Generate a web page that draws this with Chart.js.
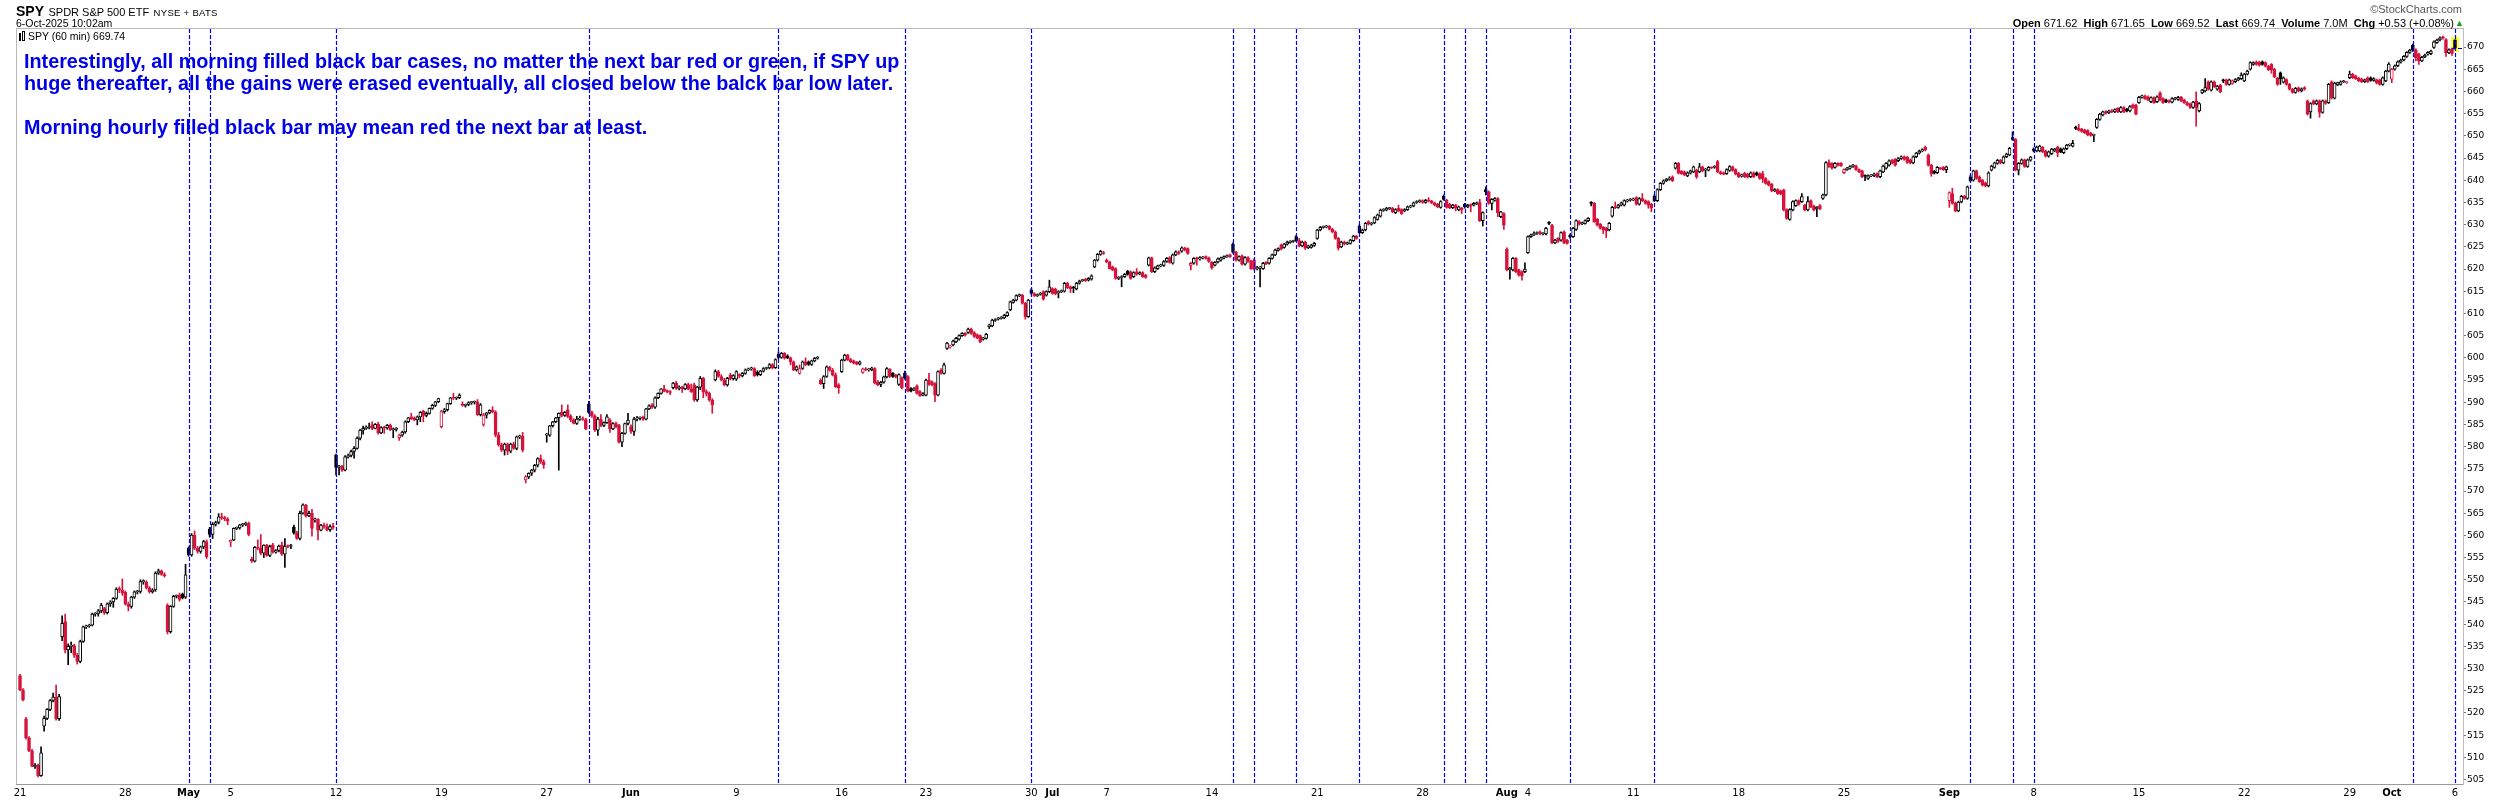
<!DOCTYPE html>
<html><head><meta charset="utf-8">
<script src="https://cdn.jsdelivr.net/npm/chart.js@4.4.1/dist/chart.umd.min.js"></script>
<style>
html,body{margin:0;padding:0;background:#fff;}
#wrap{position:relative;width:2500px;height:800px;overflow:hidden;background:#fff;}
#c{position:absolute;left:0;top:0;}
.t{position:absolute;white-space:pre;font-family:"Liberation Sans",Arial,sans-serif;color:#000;line-height:1;}
#note{position:absolute;left:24px;top:50px;font-family:"Liberation Sans",Arial,sans-serif;font-weight:bold;font-size:19.8px;line-height:22px;color:#0000e6;white-space:pre;}
</style></head><body>
<div id="wrap">
<canvas id="c" width="2500" height="800"></canvas>
<div class="t" style="left:16px;top:3px;"><span style="font-size:14px;font-weight:bold;">SPY</span> <span style="font-size:11px;">SPDR S&amp;P 500 ETF</span> <span style="font-size:9.5px;letter-spacing:0.3px;">NYSE + BATS</span></div>
<div class="t" style="left:16px;top:18px;font-size:10.5px;">6-Oct-2025 10:02am</div>
<div class="t" style="right:38px;top:4px;font-size:11px;color:#555;">&#169;StockCharts.com</div>
<div class="t" style="right:46px;top:18px;font-size:11px;"><b>Open</b> 671.62  <b>High</b> 671.65  <b>Low</b> 669.52  <b>Last</b> 669.74  <b>Volume</b> 7.0M  <b>Chg</b> +0.53 (+0.08%)</div>
<div class="t" style="left:2455px;top:19px;font-size:9px;color:#1a9a1a;">&#9650;</div>
<div class="t" style="left:19px;top:31px;font-size:10.5px;"><span style="display:inline-block;width:2px;height:8px;background:#000;vertical-align:-1px;"></span><span style="display:inline-block;width:1px;height:8px;border:1px solid #000;margin-left:1px;vertical-align:-1px;"></span> SPY (60 min) 669.74</div>
<div id="note">Interestingly, all morning filled black bar cases, no matter the next bar red or green, if SPY up
huge thereafter, all the gains were erased eventually, all closed below the balck bar low later.

Morning hourly filled black bar may mean red the next bar at least.</div>
</div>
<script>
// ---- DATA (hourly bars, SPY 60 min, 21-Apr-2025 .. 6-Oct-2025) ----
const prevClose0 = 526.4;
const opens = [
528.4,525.2,518.7,514.4,511.5,507.9,508.2,
505.9,517.0,518.8,520.8,522.8,523.6,518.7,
537.2,540.6,534.2,535.0,535.2,533.0,531.6,
536.1,539.4,539.6,539.8,542.3,542.4,543.0,
543.5,542.6,544.6,545.0,545.8,547.9,547.6,
547.2,544.5,544.0,546.1,547.3,547.4,549.6,
549.5,548.2,547.3,547.7,551.5,552.0,551.2,
544.3,538.3,544.0,546.3,546.6,546.8,546.1,
557.1,555.6,560.1,557.1,556.4,557.4,558.6,
561.4,560.2,562.5,562.9,564.2,564.0,563.7,
558.5,559.0,561.6,561.7,562.4,562.5,562.7,
554.6,554.2,557.3,557.1,556.0,557.8,555.5,
557.9,556.2,556.6,557.8,555.8,557.6,557.5,
561.9,560.6,559.3,565.0,566.8,564.4,565.0,
563.5,563.6,561.2,562.3,562.0,561.3,562.0,
578.1,575.3,575.5,574.7,577.7,578.0,578.9,
579.6,581.9,583.7,584.1,584.3,584.9,584.1,
585.0,583.1,584.3,584.2,584.8,583.8,583.9,
582.0,582.6,583.3,585.6,586.7,586.4,586.0,
586.7,588.0,587.0,587.5,588.6,589.3,590.1,
584.5,587.9,588.3,589.7,591.0,590.9,591.0,
589.6,589.3,589.5,589.9,590.0,590.1,587.2,
585.0,587.1,587.6,588.2,587.8,582.6,580.4,
579.2,580.6,579.0,580.6,579.6,582.2,582.4,
572.5,573.2,574.0,574.7,575.8,577.3,576.6,
582.6,582.6,584.7,585.6,586.5,587.8,587.0,
588.3,586.8,586.0,585.2,586.2,586.3,586.1,
589.5,587.7,586.9,583.7,586.2,584.8,585.4,
586.0,584.0,585.2,584.8,581.0,583.0,585.2,
584.5,583.4,586.2,586.4,586.6,586.2,588.5,
589.4,588.9,591.0,592.0,593.0,592.6,592.4,
593.3,594.3,593.1,593.4,593.0,594.0,593.0,
593.9,590.5,593.4,595.4,592.4,592.0,590.5,
595.0,596.9,595.8,595.0,593.9,596.1,595.3,
595.2,596.2,595.9,596.5,597.3,597.5,597.6,
596.8,596.2,597.0,597.6,597.7,598.5,597.8,
600.8,600.1,601.0,600.4,600.0,599.1,597.3,
596.5,597.6,599.1,599.1,598.5,599.3,599.9,
595.0,594.2,595.8,597.9,597.2,596.1,593.9,
596.9,599.5,600.6,599.6,599.3,599.0,598.6,
596.7,597.5,597.3,597.3,597.6,594.6,594.0,
594.5,595.7,597.4,596.5,596.1,594.0,595.5,
596.5,595.8,593.1,592.8,593.7,592.4,591.6,
591.6,595.0,594.6,594.2,591.6,597.2,596.5,
602.1,602.4,602.9,603.6,604.2,605.0,605.5,
605.7,606.5,605.7,605.2,605.0,604.2,604.4,
607.0,607.2,608.4,608.7,608.9,609.0,609.5,
610.8,612.5,613.0,614.0,614.1,612.3,609.3,
615.3,614.5,614.0,614.3,614.9,614.1,614.9,
615.6,615.5,614.7,614.9,615.0,616.8,616.0,
615.9,615.5,616.8,617.4,617.7,617.5,617.7,
620.5,622.0,623.3,623.7,
622.0,621.6,620.5,620.1,617.9,618.1,618.3,
619.5,619.4,618.3,619.4,618.9,619.2,618.6,
620.9,622.5,619.4,620.1,620.7,620.8,621.7,
622.6,621.3,623.2,623.9,624.0,624.7,624.6,
620.8,621.3,622.5,622.2,622.5,622.8,622.5,
621.5,620.9,621.6,622.0,622.5,622.8,623.2,
625.6,623.8,622.0,623.0,621.1,622.6,621.8,
622.0,620.1,620.2,620.1,621.5,621.3,622.4,
623.2,624.2,625.4,624.9,625.6,626.0,626.2,
627.3,626.4,625.2,626.1,624.8,624.9,625.3,
626.9,628.8,629.4,629.5,629.6,629.0,628.4,
626.9,625.0,626.1,625.7,625.8,626.4,627.4,
629.7,628.2,628.8,630.7,630.1,630.4,631.2,
631.9,633.2,633.3,633.6,633.7,632.7,633.7,
633.4,633.1,633.4,634.0,634.2,635.0,635.2,
635.4,635.0,635.6,635.3,634.9,634.6,633.9,
636.4,635.5,634.6,633.8,634.4,633.3,633.7,
634.6,634.0,634.5,634.4,634.7,635.0,630.9,
637.9,637.4,634.8,635.5,635.9,631.8,632.5,
624.5,619.8,619.8,622.4,619.8,619.4,619.4,
623.7,627.3,627.7,628.0,628.4,627.9,627.9,
630.5,629.9,625.9,626.9,626.5,628.4,626.5,
627.6,627.3,628.9,630.7,630.2,630.3,630.9,
635.0,634.8,631.2,630.1,629.4,629.2,628.8,
631.9,634.0,633.9,634.4,634.4,635.3,635.5,
635.6,636.1,634.6,635.9,635.4,635.2,634.6,
636.4,635.4,637.9,639.3,639.9,640.2,640.8,
642.7,643.8,642.0,641.9,641.0,641.6,641.9,
642.3,641.9,643.0,642.3,642.3,642.9,642.9,
644.2,641.9,641.7,641.5,642.2,643.0,642.4,
641.6,640.9,641.6,641.4,640.8,641.7,641.7,
641.5,641.5,640.4,639.7,639.1,637.6,637.9,
637.6,637.8,633.4,631.2,633.3,634.3,635.4,
635.2,634.4,633.3,635.4,634.2,633.6,634.3,
635.9,636.7,644.0,643.8,642.9,643.8,643.8,
641.7,642.4,642.7,643.1,643.2,642.4,642.1,
641.0,640.4,641.0,641.0,641.5,640.8,641.9,
642.7,643.4,644.5,644.7,644.4,644.9,645.3,
645.2,644.6,643.9,645.3,646.1,646.6,647.4,
645.7,643.4,642.0,641.7,642.7,642.9,642.4,
635.4,637.0,634.9,633.1,635.1,636.4,635.9,
640.8,640.0,642.1,640.8,640.0,639.4,638.7,
642.3,642.9,643.8,644.5,643.9,645.3,645.7,
649.6,649.2,642.3,643.8,644.6,643.1,644.5,
647.0,646.6,646.6,647.4,646.6,645.4,646.0,
646.6,647.5,647.1,646.2,647.1,647.9,647.7,
651.9,651.7,651.5,651.3,651.2,650.6,650.1,
651.9,653.7,654.7,655.5,655.2,655.7,655.4,
656.2,655.4,656.4,656.0,655.6,657.0,656.9,
657.5,658.7,659.0,658.8,657.7,658.6,657.7,
659.7,658.4,658.1,657.9,657.6,658.3,658.2,
658.7,658.1,657.5,657.2,656.4,657.9,655.6,
659.7,660.1,662.2,660.3,662.2,660.5,661.4,
662.6,662.6,661.6,661.8,662.2,662.6,662.9,
662.4,663.9,665.0,666.1,666.6,666.6,666.7,
666.5,665.7,666.1,665.0,663.0,664.2,662.1,
662.7,661.6,660.5,659.8,660.8,660.1,660.9,
657.9,655.4,657.9,657.2,657.9,655.3,657.9,
657.5,662.2,658.5,661.5,661.6,662.2,662.0,
663.1,663.9,663.5,663.0,662.8,662.2,663.1,
663.1,662.5,662.6,662.6,661.6,662.4,664.6,
662.8,665.0,665.8,666.6,667.1,667.9,668.8,
670.4,669.4,668.4,666.9,667.8,668.4,668.5,
669.9,671.0,671.6,672.3,671.7,668.7,669.6,
671.62
];
const highs = [
528.7,525.5,519.0,514.7,511.8,508.6,508.5,
512.4,519.3,521.0,523.0,524.5,526.3,524.2,
541.9,542.3,535.6,536.0,535.5,533.4,536.4,
539.6,539.8,540.0,542.5,542.6,543.3,544.7,
543.8,544.8,545.3,546.0,548.2,548.4,550.2,
547.5,545.0,546.3,547.5,547.6,550.0,550.0,
549.8,548.5,548.0,551.8,552.4,552.2,551.6,
544.6,544.2,546.5,546.6,547.0,547.0,553.5,
557.4,560.4,561.0,557.5,557.6,558.9,559.0,
561.8,562.9,563.2,564.9,565.0,564.3,564.0,
559.0,561.7,561.9,562.5,562.7,563.0,563.0,
555.1,557.5,559.0,560.2,557.9,558.0,557.8,
558.2,556.8,557.8,558.5,559.3,557.9,558.0,
562.3,560.9,565.5,567.1,567.0,565.5,565.9,
563.9,563.8,562.5,562.8,562.6,562.4,562.7,
578.3,575.8,575.8,578.0,578.3,579.2,580.0,
582.2,583.9,584.6,584.7,585.3,585.6,585.2,
585.5,584.5,584.6,585.0,585.1,584.2,584.3,
582.8,583.5,585.8,586.6,587.5,586.7,586.9,
587.9,588.2,587.8,588.7,589.5,590.2,590.9,
588.2,588.6,589.8,591.1,592.0,591.2,591.9,
590.1,589.6,590.1,590.2,590.3,590.6,589.7,
587.5,587.7,588.3,589.0,588.1,583.2,580.8,
580.8,580.8,580.8,581.0,582.4,582.6,583.2,
573.5,574.1,574.9,576.0,577.5,578.1,577.0,
583.0,584.8,585.7,586.6,587.6,589.4,587.9,
589.4,587.2,586.3,586.8,586.9,586.7,586.4,
590.2,588.0,587.2,586.6,587.2,585.6,587.2,
586.3,585.4,585.5,585.0,583.2,585.3,587.5,
584.9,586.6,586.8,586.7,586.9,588.6,589.4,
589.7,591.2,592.1,593.1,593.8,592.8,592.6,
594.5,594.7,593.7,593.6,594.2,594.3,594.1,
594.3,593.6,595.8,595.6,592.8,592.3,590.8,
597.3,597.2,596.2,595.4,595.6,596.5,596.2,
597.1,596.4,596.7,597.5,597.7,597.9,597.8,
597.1,597.2,597.8,597.9,598.7,598.7,599.8,
601.4,601.2,601.2,600.7,600.2,599.3,598.2,
598.4,599.3,600.0,599.3,599.5,600.1,600.3,
595.3,596.0,598.2,598.1,597.6,596.6,594.2,
599.7,600.8,600.8,599.9,599.5,599.2,599.3,
597.7,597.8,597.6,597.9,597.8,594.9,594.7,
595.9,597.8,597.6,596.7,596.3,596.4,595.7,
597.0,596.0,593.3,593.3,593.9,592.6,592.2,
595.2,596.5,594.8,594.4,597.1,597.6,598.8,
603.5,602.9,604.0,604.6,605.2,605.7,605.7,
606.7,606.7,605.9,605.4,605.2,604.6,605.5,
607.6,608.7,608.8,609.1,609.3,609.8,610.4,
612.8,613.2,614.2,614.4,614.3,612.5,613.2,
615.6,614.7,614.4,614.7,615.1,615.1,617.5,
615.8,615.7,615.1,615.3,617.0,617.0,616.2,
616.1,617.0,617.5,617.7,617.9,618.1,618.7,
622.2,623.5,624.2,624.0,
622.3,621.8,620.7,620.3,618.3,618.5,619.0,
619.7,619.6,619.4,620.1,619.4,619.4,618.8,
622.7,622.7,620.5,620.9,621.1,621.9,622.6,
622.8,623.4,624.1,624.1,625.0,624.9,624.8,
621.5,622.6,622.7,622.8,622.8,623.0,622.7,
621.7,621.7,622.5,622.7,623.0,623.2,623.4,
625.9,624.0,623.0,623.2,622.8,622.8,622.0,
622.3,620.6,620.6,621.5,621.7,622.6,623.4,
624.5,624.8,625.6,625.8,626.3,626.4,626.5,
627.6,626.9,626.3,626.3,625.4,625.6,626.0,
629.0,629.6,629.7,629.8,629.8,629.2,628.6,
627.1,626.3,626.3,626.1,626.7,627.6,627.6,
630.0,629.0,630.5,630.9,630.5,631.8,632.4,
633.5,633.6,633.9,633.9,633.9,633.6,634.4,
633.6,633.6,634.2,634.4,635.1,635.4,635.6,
635.6,635.7,636.1,635.5,635.1,634.8,635.4,
636.7,635.7,634.8,634.6,634.6,634.2,633.9,
634.8,634.6,634.7,635.0,635.1,635.7,632.9,
638.5,637.6,635.9,636.1,636.1,633.0,632.7,
624.8,620.4,622.6,622.6,620.0,619.6,621.4,
627.5,627.9,628.4,628.4,628.6,628.2,629.4,
630.7,630.1,626.7,627.1,628.4,628.6,626.7,
627.9,629.4,631.1,630.9,630.6,631.1,631.6,
635.2,635.0,631.4,630.3,629.6,629.4,630.5,
634.1,635.1,634.6,635.1,635.6,635.7,635.9,
636.0,636.3,636.1,637.0,635.6,635.4,634.8,
636.7,638.1,639.5,640.1,640.4,640.8,641.0,
644.0,644.0,642.2,642.1,641.9,642.3,643.2,
642.5,643.8,643.2,642.7,643.1,643.0,643.3,
644.5,642.1,641.9,642.6,643.3,643.2,642.6,
641.8,641.4,641.8,641.6,641.9,641.9,641.9,
641.7,642.0,640.6,639.9,639.3,638.1,638.1,
637.8,638.0,633.6,633.6,635.4,635.6,635.6,
637.0,634.6,636.3,635.6,634.4,634.1,634.5,
636.9,644.2,644.6,644.0,644.0,644.0,644.0,
642.6,642.9,643.3,643.6,643.4,642.6,642.3,
641.2,641.2,641.3,641.6,641.7,642.3,643.4,
644.0,644.6,644.7,644.9,645.1,645.5,645.5,
645.4,644.8,645.5,646.3,646.8,647.1,647.7,
645.9,643.6,642.2,643.1,642.9,643.1,643.2,
637.4,638.2,635.1,635.3,636.6,636.6,638.7,
641.1,642.3,642.3,641.0,640.2,639.6,641.9,
643.4,644.1,644.7,644.7,645.5,646.1,647.4,
650.9,649.4,644.0,644.8,644.8,644.8,645.4,
647.3,647.7,647.9,647.6,646.8,646.6,647.2,
647.2,647.7,647.3,647.3,648.1,648.2,649.0,
652.2,652.6,651.7,651.5,651.4,650.8,650.4,
653.9,655.1,655.6,655.7,655.8,655.9,656.1,
656.4,656.6,656.6,656.2,656.8,657.2,657.1,
658.9,659.2,659.2,659.0,658.8,658.8,659.0,
659.9,658.6,658.3,658.1,658.6,658.7,658.9,
658.9,658.3,657.7,657.4,657.8,659.9,657.5,
660.5,662.9,662.4,662.4,662.4,661.4,661.6,
662.8,662.8,662.8,662.6,662.9,663.2,664.2,
664.1,664.8,666.7,666.7,666.9,666.8,666.9,
666.7,665.9,666.3,665.2,663.2,664.4,663.3,
662.9,661.8,660.7,660.9,661.0,660.8,661.1,
658.1,657.5,658.1,658.1,658.1,658.1,658.1,
661.8,662.4,662.1,662.1,662.4,662.5,662.3,
664.6,664.1,663.7,663.2,663.0,662.8,663.3,
663.3,663.1,662.8,662.8,663.3,664.8,666.5,
665.2,666.0,666.9,667.3,668.1,669.0,669.5,
670.7,669.6,668.6,667.9,668.4,669.0,669.3,
671.4,671.8,672.3,672.5,671.9,669.6,669.8,
671.65
];
const lows = [
525.0,522.7,514.1,511.3,507.9,507.5,505.6,
505.7,515.9,518.5,520.5,522.5,518.4,518.3,
536.3,533.5,530.9,533.6,532.5,531.0,531.3,
535.9,539.0,539.3,539.6,541.8,541.8,542.6,
542.2,542.3,544.0,543.8,545.6,547.1,546.5,
544.3,543.0,543.6,545.8,546.8,547.0,549.0,
547.9,547.0,547.0,547.4,551.2,551.0,550.6,
537.8,538.0,543.8,545.9,545.2,545.7,545.8,
555.3,555.3,556.8,556.0,556.0,557.0,554.8,
559.6,559.3,562.1,562.6,563.6,563.3,562.4,
557.5,558.8,561.3,561.4,562.0,562.2,559.9,
553.9,554.0,556.8,555.6,555.0,555.3,555.2,
556.0,556.0,556.3,555.5,552.8,557.2,557.0,
560.3,559.1,559.0,564.8,564.1,564.2,559.8,
563.0,559.0,561.0,561.6,561.0,560.9,561.4,
573.6,573.6,574.4,574.5,577.4,577.7,577.4,
579.4,581.5,582.8,583.9,584.0,583.8,584.0,
582.8,582.9,583.0,583.9,583.6,582.0,583.5,
581.4,582.3,583.0,585.4,586.1,585.8,584.9,
585.6,585.6,586.7,587.3,588.4,589.0,589.9,
584.2,587.5,588.0,589.5,590.6,590.6,590.8,
589.1,588.9,589.2,589.5,589.6,587.0,586.9,
584.6,586.4,587.4,587.6,582.2,580.1,578.9,
578.1,578.2,578.6,579.4,579.3,581.8,578.8,
571.8,572.8,573.5,574.3,575.4,576.2,575.1,
581.0,582.3,584.4,585.4,574.7,586.7,586.8,
586.5,585.6,585.1,585.0,585.9,585.9,583.8,
587.5,586.6,583.4,582.5,584.5,584.5,585.2,
583.2,583.8,584.2,580.8,580.0,582.8,584.9,
583.0,582.5,585.8,586.0,585.9,586.0,588.3,
588.6,588.6,590.8,591.8,592.3,592.1,591.7,
593.0,592.9,592.8,592.2,592.8,592.8,592.2,
590.2,590.2,592.8,591.0,591.4,590.2,587.5,
594.8,595.6,594.8,593.7,593.6,595.0,595.0,
594.9,595.5,595.7,596.3,597.1,597.2,595.8,
595.9,596.0,596.8,597.4,597.5,597.5,597.6,
599.8,599.9,599.7,599.8,598.4,597.1,597.0,
596.3,597.4,598.2,598.3,598.3,599.1,599.7,
594.0,593.1,595.6,597.0,595.9,593.3,592.0,
596.7,599.3,599.4,598.9,598.6,598.4,598.4,
596.5,597.1,597.0,597.1,594.1,593.7,593.5,
594.3,595.5,595.6,595.6,595.5,593.8,593.0,
595.2,592.3,592.3,592.6,591.8,591.3,591.4,
591.4,593.8,593.7,590.1,591.4,596.3,596.3,
601.9,602.2,602.7,603.4,604.0,604.8,604.9,
605.5,605.3,604.6,604.3,603.4,604.0,604.2,
606.6,607.0,608.2,608.5,608.7,608.8,609.3,
610.6,612.3,612.8,613.8,612.1,608.7,609.1,
614.3,613.8,613.8,614.1,613.0,613.9,614.7,
614.3,614.2,613.5,614.7,614.8,615.6,614.7,
614.7,615.3,616.6,617.2,617.2,617.3,617.5,
620.3,621.8,623.1,623.3,
621.4,620.0,619.6,617.7,617.6,616.0,618.1,
618.6,617.7,618.1,618.6,618.7,618.1,617.9,
620.7,619.2,619.2,619.9,620.5,620.6,621.5,
621.3,621.1,623.0,623.3,623.8,624.1,623.3,
619.8,621.1,620.9,622.0,622.3,622.2,621.5,
620.0,620.7,621.4,621.8,622.3,622.6,622.6,
623.6,621.8,621.8,620.9,620.9,621.5,619.9,
619.8,619.8,616.0,619.9,621.0,621.1,622.2,
623.0,624.0,624.3,624.7,625.4,625.8,626.0,
626.2,625.0,625.0,624.4,624.6,624.7,625.1,
626.7,628.6,629.2,629.3,628.8,628.2,626.7,
624.3,624.8,625.4,625.5,625.6,626.2,626.7,
628.0,628.0,628.6,629.9,629.9,630.2,631.0,
631.7,633.0,633.1,633.4,632.7,632.5,632.9,
632.3,632.9,633.2,633.8,634.0,634.8,635.0,
634.8,634.8,635.1,634.7,634.2,633.8,633.7,
635.5,633.7,633.6,633.6,633.1,633.1,632.5,
633.7,633.8,632.9,634.2,634.5,630.7,629.7,
636.7,634.6,633.3,635.3,631.8,631.6,628.9,
619.6,617.7,619.6,619.2,618.4,617.5,619.2,
623.5,627.1,627.5,627.8,627.7,627.7,627.7,
630.0,625.7,625.7,626.0,626.3,625.7,625.6,
626.9,627.1,628.7,629.9,630.0,630.1,630.7,
634.2,630.5,629.7,629.0,628.0,627.1,628.6,
631.7,633.6,633.7,634.2,634.2,635.1,635.3,
635.4,634.4,634.4,635.2,634.6,633.7,632.9,
635.2,635.2,637.7,639.1,639.7,640.0,639.7,
642.5,641.4,641.3,641.0,640.8,641.4,641.7,
640.4,641.7,641.9,640.8,642.1,642.6,642.7,
641.7,641.3,641.2,641.3,642.0,642.0,641.2,
640.6,640.7,640.6,640.5,640.6,640.6,641.0,
640.2,639.5,639.1,638.7,637.4,637.4,636.8,
636.7,633.1,631.2,631.0,633.1,634.1,634.4,
635.0,633.1,633.1,633.8,633.1,631.8,633.4,
635.7,636.5,642.9,642.5,642.7,643.2,643.1,
641.5,642.2,642.5,642.9,642.2,641.7,640.6,
639.9,640.2,640.8,640.8,640.6,640.6,641.7,
642.5,643.2,643.7,643.2,644.2,644.7,644.5,
643.8,643.7,643.7,645.1,645.9,646.4,646.6,
643.2,640.9,641.4,641.5,642.4,642.2,641.7,
633.9,634.6,632.9,632.9,634.9,635.7,635.7,
639.7,639.8,640.2,639.5,638.7,638.5,638.5,
642.1,642.7,643.6,643.7,643.7,645.1,645.5,
649.0,642.1,641.2,643.6,642.9,642.9,644.3,
646.4,646.4,646.4,646.2,645.2,645.2,645.8,
646.4,645.3,646.2,646.0,646.9,647.7,647.5,
651.4,651.1,650.8,650.5,650.0,649.9,648.7,
651.7,653.5,654.5,654.9,655.0,655.2,655.2,
655.2,655.2,655.2,655.4,655.4,656.2,654.7,
657.3,658.5,658.2,657.9,657.5,657.3,657.5,
657.9,657.3,657.5,657.4,657.4,658.1,658.0,
657.7,657.3,656.8,656.2,656.2,652.2,655.4,
659.5,659.9,660.3,660.1,660.9,660.3,659.7,
662.0,661.4,661.4,661.6,662.0,662.4,662.7,
662.2,663.7,664.8,665.9,665.9,665.7,665.9,
665.5,664.7,664.1,663.1,661.4,661.6,661.9,
661.4,660.3,659.6,659.6,659.9,659.9,660.3,
654.7,654.0,657.0,657.0,654.2,655.1,657.1,
657.3,658.3,658.3,661.3,661.4,662.0,661.8,
662.9,662.9,662.7,662.2,662.0,662.0,662.0,
662.3,662.3,661.7,661.4,661.4,662.2,664.4,
662.0,664.8,665.6,666.4,666.9,667.7,668.6,
669.0,666.9,666.1,666.7,667.6,668.2,668.3,
669.7,670.8,671.4,671.8,667.9,668.5,668.1,
669.52
];
const closes = [
525.2,523.0,514.4,511.5,508.0,508.2,505.9,
511.0,518.8,520.8,522.8,523.6,518.7,523.7,
540.2,534.2,535.0,535.2,533.0,531.6,536.1,
539.4,539.6,539.8,542.3,542.4,543.0,544.3,
542.6,544.6,545.0,545.8,547.9,547.8,547.0,
544.5,544.0,546.1,547.3,547.4,549.6,549.8,
548.2,547.3,547.7,551.5,552.0,551.2,550.9,
538.3,544.0,546.3,546.4,545.6,546.0,551.1,
555.6,560.1,557.1,556.4,557.4,558.6,555.2,
560.2,562.5,562.9,564.2,563.9,563.7,563.2,
558.9,561.6,561.7,562.4,562.5,562.7,560.2,
554.2,557.3,557.1,556.0,557.8,555.5,557.5,
556.2,556.6,557.6,555.8,557.6,557.5,557.7,
560.6,559.3,565.0,566.9,564.4,565.0,561.6,
563.6,561.2,562.3,562.0,561.3,562.0,561.8,
575.3,575.6,574.7,577.7,578.0,578.9,579.6,
581.9,583.7,584.1,584.3,584.5,584.1,585.0,
583.1,584.3,584.2,584.8,583.8,583.9,584.0,
582.6,583.3,585.6,586.5,586.3,586.0,586.7,
587.7,587.0,587.5,588.6,589.3,590.1,590.8,
587.9,588.3,589.7,591.0,590.9,591.0,591.6,
589.3,589.5,589.9,590.0,590.1,587.2,589.4,
587.1,587.6,588.2,587.8,582.6,580.4,579.2,
580.6,579.0,580.6,579.6,582.2,582.4,579.2,
573.2,574.0,574.7,575.8,577.3,576.6,575.9,
582.8,584.7,585.6,586.5,587.5,587.0,587.7,
586.8,586.0,585.2,586.2,586.3,586.1,584.0,
587.7,586.9,583.7,586.2,584.8,585.4,586.7,
584.0,585.2,584.5,581.0,583.0,585.2,586.0,
583.4,586.2,586.4,586.6,586.2,588.5,589.2,
588.9,591.0,592.0,593.0,592.5,592.3,592.2,
594.3,593.1,593.4,593.0,594.0,593.0,592.4,
590.5,593.4,595.4,592.4,592.0,590.5,589.4,
596.9,595.8,595.0,593.9,595.4,595.3,596.0,
596.9,595.9,596.5,597.3,597.5,597.6,596.0,
596.2,597.0,597.6,597.7,598.5,597.8,599.6,
600.1,601.0,599.9,600.0,599.1,597.3,598.0,
597.6,599.1,598.4,598.5,599.3,599.9,600.1,
594.2,595.8,598.0,597.2,596.1,593.5,593.3,
599.5,600.6,599.6,599.1,598.8,598.6,599.1,
597.5,597.3,597.4,597.7,594.3,593.9,594.5,
595.7,597.6,595.8,595.8,595.7,596.2,593.2,
595.4,592.5,592.5,593.1,592.0,591.5,591.9,
595.0,594.0,593.9,591.6,596.9,596.5,598.4,
603.3,602.6,603.8,604.4,605.0,605.5,605.1,
606.5,605.5,604.8,604.5,603.6,604.4,605.3,
607.4,608.5,608.6,608.9,609.1,609.6,610.2,
612.6,613.0,614.0,614.2,612.3,609.3,613.0,
614.5,614.0,614.2,614.5,613.2,614.9,616.0,
614.5,614.4,614.9,615.1,616.8,615.8,615.6,
615.7,616.8,617.3,617.5,617.4,617.9,618.5,
622.0,623.3,624.0,623.5,
621.6,620.1,619.8,617.9,618.1,618.3,618.8,
618.8,617.9,619.2,618.8,619.2,618.3,618.1,
622.5,619.4,620.3,620.7,620.9,621.7,622.4,
621.5,623.2,623.9,623.5,624.8,624.3,623.5,
621.3,622.4,622.3,622.6,622.6,622.4,621.7,
620.3,621.5,622.3,622.5,622.8,623.0,622.8,
623.8,622.0,622.8,621.1,622.6,621.7,620.1,
620.0,620.3,620.4,621.3,621.2,622.4,623.2,
624.3,624.6,624.5,625.6,626.1,626.2,626.3,
626.4,625.2,626.1,624.7,625.2,625.4,625.8,
628.8,629.4,629.5,629.6,629.0,628.4,626.9,
624.7,626.1,625.6,625.9,626.5,627.4,626.9,
628.2,628.8,630.3,630.1,630.3,631.6,632.2,
633.3,633.4,633.7,633.8,632.9,633.4,633.1,
632.5,633.4,634.0,634.2,634.9,635.2,635.4,
635.0,635.5,635.3,634.9,634.4,634.0,635.2,
635.7,633.9,633.8,634.4,633.7,634.0,633.3,
634.0,634.4,634.3,634.8,634.9,630.9,632.7,
637.4,634.8,635.7,635.9,632.7,632.9,629.9,
619.8,620.2,622.4,619.4,618.6,618.5,620.0,
627.3,627.7,628.0,628.2,627.9,628.0,629.2,
630.3,625.9,626.5,626.2,628.2,625.9,625.8,
627.2,629.2,630.9,630.1,630.4,630.9,631.4,
634.8,630.7,629.9,629.2,628.8,628.6,630.3,
633.9,633.8,634.4,634.9,635.4,635.5,635.6,
635.7,634.6,635.9,635.4,634.8,634.4,633.7,
635.4,637.9,639.3,639.9,640.2,640.4,639.9,
643.8,641.6,641.5,641.2,641.7,642.1,643.0,
640.8,643.0,642.1,642.5,642.9,642.8,643.1,
641.9,641.5,641.4,642.4,643.1,642.2,641.4,
640.8,641.2,640.8,640.7,641.7,640.8,641.2,
640.4,640.3,639.3,638.9,637.6,637.9,637.0,
636.9,633.3,631.4,633.4,635.2,635.4,634.6,
636.3,633.3,635.2,634.0,633.3,633.9,633.6,
636.7,644.0,643.1,642.7,643.8,643.4,643.3,
642.4,642.7,643.1,643.4,642.4,641.9,640.8,
640.9,641.0,641.1,641.4,640.8,642.1,643.2,
643.8,644.4,643.9,643.4,644.9,645.3,644.7,
644.0,643.9,645.3,646.1,646.6,646.9,646.8,
643.4,641.5,641.6,642.9,642.6,642.4,643.0,
637.2,634.8,633.1,635.1,636.4,635.9,638.5,
639.9,642.1,640.4,639.7,638.9,638.7,641.7,
643.2,643.9,644.5,643.9,645.3,645.9,647.2,
649.2,642.3,643.8,644.6,643.1,644.6,645.2,
646.7,647.5,647.7,646.4,645.4,646.4,647.0,
647.0,646.2,646.4,647.1,647.9,648.0,648.3,
651.7,651.3,651.0,650.7,650.2,650.1,650.2,
653.7,654.9,655.4,655.1,655.6,655.4,655.9,
655.4,656.4,655.4,655.6,656.6,656.4,654.9,
658.7,659.0,658.4,658.1,658.6,657.5,658.8,
658.1,657.5,657.7,657.6,658.4,658.5,658.7,
657.9,657.5,657.0,656.4,657.6,656.4,657.3,
660.3,660.9,660.5,662.2,661.1,661.2,659.9,
662.4,661.6,662.6,662.4,662.7,663.0,663.7,
663.9,664.6,666.5,666.5,666.1,665.9,666.1,
665.7,664.9,664.8,663.3,661.6,662.9,663.1,
661.6,660.5,659.8,660.7,660.1,660.6,660.5,
654.9,657.3,657.2,657.9,655.3,657.9,657.3,
661.6,658.5,661.9,662.0,662.2,662.3,662.1,
663.9,663.1,662.9,662.4,662.2,662.6,662.2,
662.5,662.9,661.9,661.6,663.1,664.6,666.2,
665.0,665.8,666.7,667.1,667.9,668.8,669.3,
669.4,667.6,666.9,667.7,668.2,668.8,669.1,
671.2,671.6,672.1,672.0,668.7,669.4,668.6,
669.74
];
// bar index of the first bar of each labelled session, and the labels
const xTickIdx    = [0,35,56,70,105,140,175,203,238,273,301,336,343,361,396,431,466,494,501,536,571,606,641,669,704,739,774,788,809];
const xTickLabels = ['21','28','May','5','12','19','27','Jun','9','16','23','30','Jul','7','14','21','28','Aug','4','11','18','25','Sep','8','15','22','29','Oct','6'];
const monthLabels = ['May','Jun','Jul','Aug','Sep','Oct'];
const yTickValues = [505,510,515,520,525,530,535,540,545,550,555,560,565,570,575,580,585,590,595,600,605,610,615,620,625,630,635,640,645,650,655,660,665,670];
// bars marked with blue dashed lines (morning filled black bars)
const markedBars = [56,63,105,189,252,294,336,403,410,424,445,473,480,487,515,543,648,662,669,795,809];

// ---- STYLE ----
const RED = '#d7143c', BLK = '#000000', BLUE = '#0000ff';
const n = closes.length;
const col = [], fill = [];
for (let i = 0; i < n; i++) {
  const pc = i === 0 ? prevClose0 : closes[i-1];
  col.push(closes[i] >= pc ? BLK : RED);
  fill.push(closes[i] < opens[i] ? (closes[i] >= pc ? BLK : RED) : '#ffffff');
}
const wickData = [], bodyData = [];
for (let i = 0; i < n; i++) {
  wickData.push({x: i, y: [lows[i], highs[i]]});
  bodyData.push({x: i, y: [Math.min(opens[i], closes[i]), Math.max(opens[i], closes[i])]});
}
const labelMap = {}; xTickIdx.forEach((v, k) => labelMap[v] = xTickLabels[k]);

const overlay = {
  id: 'overlay',
  beforeDatasetsDraw(chart) {
    const {ctx, chartArea: a, scales: {x, y}} = chart;
    ctx.save();
    ctx.strokeStyle = '#b8b8b8'; ctx.lineWidth = 1;
    ctx.beginPath();
    ctx.moveTo(a.left + 0.5, a.bottom); ctx.lineTo(a.left + 0.5, a.top + 0.5); ctx.lineTo(a.right, a.top + 0.5);
    ctx.stroke();
    const li = n - 1, lx = x.getPixelForValue(li);
    const yt = y.getPixelForValue(highs[li]), yb = y.getPixelForValue(lows[li]);
    ctx.fillStyle = '#ffff3c';
    ctx.fillRect(Math.round(lx) - 4, yt - 3, 8, yb - yt + 6);
    ctx.restore();
  },
  afterDatasetsDraw(chart) {
    const {ctx, chartArea: a, scales: {x, y}} = chart;
    ctx.save();
    ctx.strokeStyle = BLUE; ctx.lineWidth = 1.2; ctx.setLineDash([4, 2]);
    markedBars.forEach(i => {
      const px = Math.round(x.getPixelForValue(i)) + 0.5;
      ctx.beginPath(); ctx.moveTo(px, a.top + 1); ctx.lineTo(px, a.bottom); ctx.stroke();
    });
    const li = n - 1, lx = x.getPixelForValue(li), ly = Math.round(y.getPixelForValue(closes[li])) + 0.5;
    ctx.lineWidth = 1.2;
    ctx.beginPath(); ctx.moveTo(lx - 3, ly); ctx.lineTo(a.right, ly); ctx.stroke();
    ctx.restore();
  }
};

new Chart(document.getElementById('c'), {
  type: 'bar',
  data: {
    datasets: [
      {data: wickData, backgroundColor: col, borderWidth: 0, barThickness: 1, grouped: false, order: 2},
      {data: bodyData, backgroundColor: fill, borderColor: col, borderWidth: 1, borderSkipped: false, barThickness: 3, minBarLength: 1, grouped: false, order: 1}
    ]
  },
  options: {
    responsive: false, animation: false, devicePixelRatio: 1,
    layout: {padding: {left: 16, top: 28, right: 0, bottom: 0}},
    plugins: {legend: {display: false}, tooltip: {enabled: false}},
    scales: {
      x: {
        type: 'linear', min: -1.33, max: 811.66, offset: false,
        grid: {display: false, drawTicks: false},
        border: {display: true, color: '#9a9a9a', width: 1, dash: [1, 1]},
        afterBuildTicks: s => { s.ticks = xTickIdx.map(v => ({value: v})); },
        afterFit: s => { s.height = 16; },
        ticks: {
          autoSkip: false, maxRotation: 0, minRotation: 0, padding: 3, color: '#000',
          font: c => ({family: 'DejaVu Sans', size: 10, weight: (c.tick && monthLabels.includes(labelMap[c.tick.value])) ? 'bold' : 'normal'}),
          callback: v => labelMap[v] !== undefined ? labelMap[v] : ''
        }
      },
      y: {
        type: 'linear', position: 'right', min: 504.0, max: 674.3,
        grid: {drawOnChartArea: false, drawTicks: true, tickLength: 3, color: '#777'},
        border: {display: true, color: '#bdbdbd', width: 1},
        afterBuildTicks: s => { s.ticks = yTickValues.map(v => ({value: v})); },
        afterFit: s => { s.width = 37; },
        ticks: {padding: 1, color: '#000', font: {family: 'DejaVu Sans', size: 9}, callback: v => String(v)}
      }
    }
  },
  plugins: [overlay]
});
</script>
</body></html>
